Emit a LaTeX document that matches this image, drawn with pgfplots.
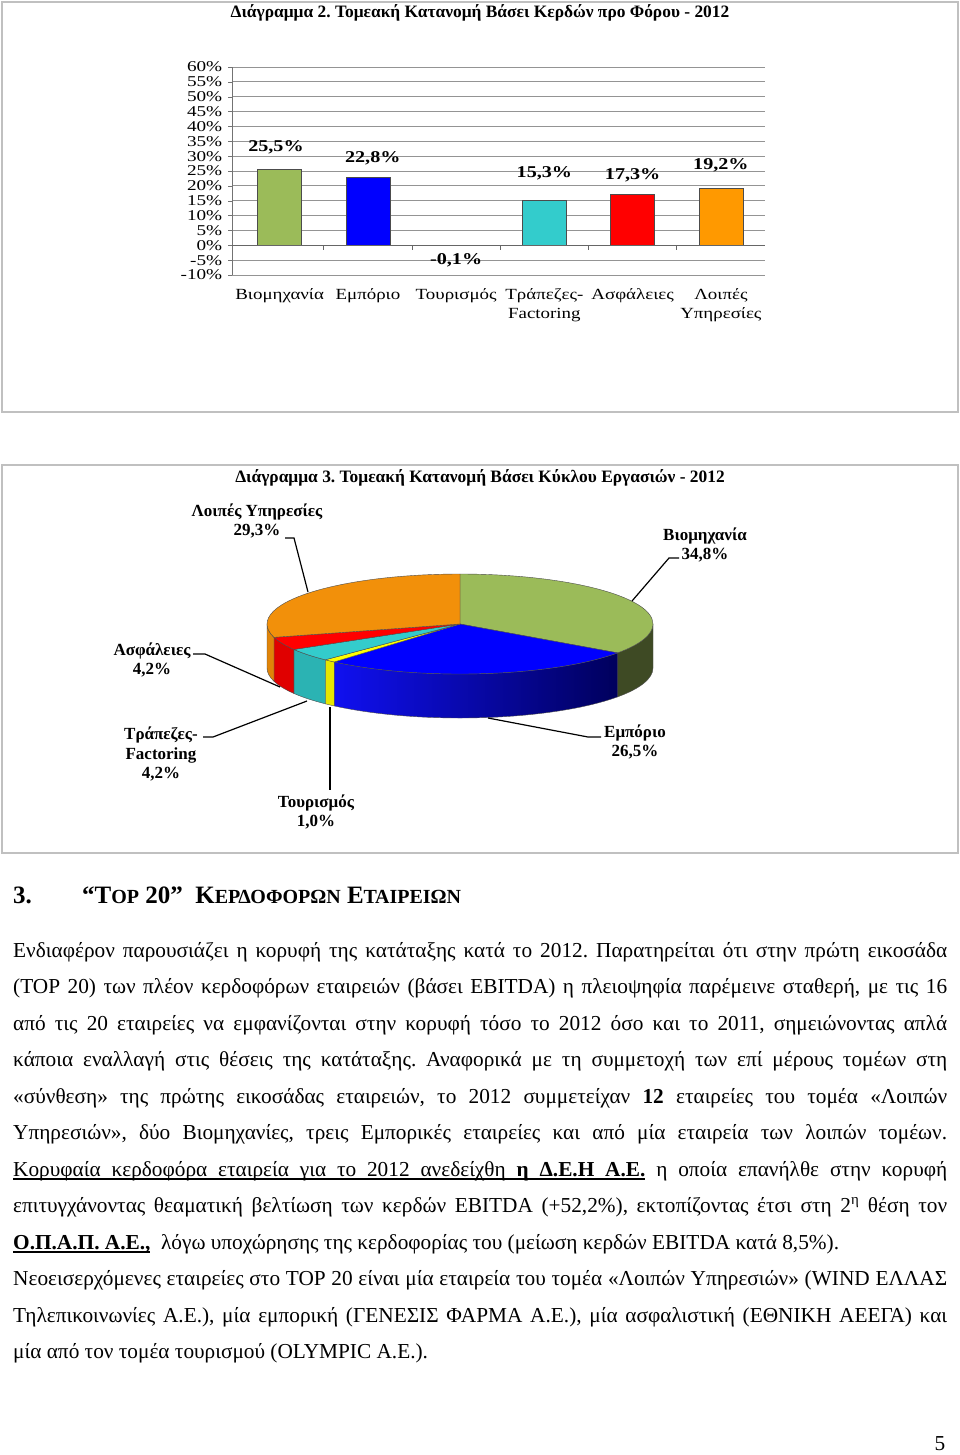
\documentclass[border=0pt]{standalone}
\usepackage{pgfplots}
\pgfplotsset{compat=1.18}
\usepackage{fontspec}
\setmainfont{Liberation Serif}
\frenchspacing
\definecolor{cGreen}{HTML}{9BBB59}
\definecolor{cBlue}{HTML}{0000FF}
\definecolor{cYellow}{HTML}{FFFF00}
\definecolor{cCyan}{HTML}{33CCCC}
\definecolor{cRed}{HTML}{FF0000}
\definecolor{cOrange}{HTML}{FF9900}
\definecolor{pOrange}{HTML}{F2900A}
\definecolor{sGreen}{HTML}{3E4A24}
\definecolor{sBlueL}{HTML}{1010F0}
\definecolor{sBlueR}{HTML}{00005C}
\definecolor{sYellow}{HTML}{E6E600}
\definecolor{sCyan}{HTML}{2BB3B3}
\definecolor{sRed}{HTML}{E00000}
\definecolor{sOrange}{HTML}{E08408}
\definecolor{frameC}{HTML}{C0C0C0}
\newcommand\bodyfont{\fontsize{21.3}{25}\selectfont}
\newcommand\lbl{\bfseries\fontsize{17}{19.5}\selectfont}
\newcommand\uw[1]{\setbox0\hbox{#1}\rlap{\vrule height -2.2pt depth 3.5pt width \wd0}\box0\relax}
\newcommand\us{\leaders\vrule height -2.2pt depth 3.5pt\hskip\fontdimen2\font plus\fontdimen3\font minus\fontdimen4\font}
\begin{document}
\begin{tikzpicture}[x=1pt,y=-1pt]
\useasboundingbox (0,0) rectangle (960,1455);
\fill[white] (0,0) rectangle (960,1455);
% frames
\draw[line width=1.3pt, frameC] (2,2) rectangle (958,412);
\draw[line width=1.3pt, frameC] (2,465) rectangle (958,853);
% titles
\node[font=\bfseries\fontsize{17.4}{20}\selectfont] at (480,13) {Διάγραμμα 2. Τομεακή Κατανομή Βάσει Κερδών προ Φόρου - 2012};
\node[font=\bfseries\fontsize{17.4}{20}\selectfont] at (480,478) {Διάγραμμα 3. Τομεακή Κατανομή Βάσει Κύκλου Εργασιών - 2012};

% ---------------- bar chart ----------------
\begin{axis}[at={(232pt,-275pt)}, anchor=south west, scale only axis,
  width=533pt, height=208pt,
  xmin=-0.54, xmax=5.5, ymin=-10, ymax=60,
  ybar, bar width=44pt,
  ytick={-10,-5,0,5,10,15,20,25,30,35,40,45,50,55,60},
  yticklabels={-10\%,-5\%,0\%,5\%,10\%,15\%,20\%,25\%,30\%,35\%,40\%,45\%,50\%,55\%,60\%},
  xtick={0,1,2,3,4,5},
  xticklabels={Βιομηχανία,Εμπόριο,Τουρισμός,{Τράπεζες-\\Factoring},Ασφάλειες,{Λοιπές\\Υπηρεσίες}},
  xticklabel style={font=\fontsize{15.5}{19}\selectfont, align=center, xscale=1.22, yshift=-6pt},
  yticklabel style={font=\fontsize{15}{17}\selectfont, xscale=1.28, xshift=-1pt},
  x tick style={draw=none},
  y tick style={black!55},
  tick align=outside, major tick length=4pt,
  axis y line*=left, axis x line*=bottom,
  x axis line style={draw=none},
  y axis line style={black!55, line width=0.8pt},
  ymajorgrids, grid style={black!42, line width=0.8pt},
  nodes near coords style={font=\bfseries\fontsize{16.5}{20}\selectfont, xscale=1.22},
  clip=false]
\addplot[bar shift=0pt, fill=cGreen, draw=black!70, nodes near coords={25,5\%}, nodes near coords style={yshift=12pt, xshift=-3pt}] coordinates {(0,25.5)};
\addplot[bar shift=0pt, fill=cBlue, draw=black!70, nodes near coords={22,8\%}, nodes near coords style={yshift=9pt, xshift=4pt}] coordinates {(1,22.8)};
\addplot[bar shift=0pt, fill=cYellow, draw=black!80, nodes near coords={-0,1\%}, nodes near coords style={yshift=-4pt}] coordinates {(2,-0.1)};
\addplot[bar shift=0pt, fill=cCyan, draw=black!70, nodes near coords={15,3\%}, nodes near coords style={yshift=16pt}] coordinates {(3,15.3)};
\addplot[bar shift=0pt, fill=cRed, draw=black!70, nodes near coords={17,3\%}, nodes near coords style={yshift=8pt}] coordinates {(4,17.3)};
\addplot[bar shift=0pt, fill=cOrange, draw=black!70, nodes near coords={19,2\%}, nodes near coords style={yshift=13pt}] coordinates {(5,19.2)};
\draw[black!60, line width=0.9pt] (axis cs:-0.54,0) -- (axis cs:5.5,0);
\pgfplotsinvokeforeach{0.5,1.5,2.5,3.5,4.5}{\draw[black!60, line width=0.8pt] (axis cs:#1,0) -- ++(0pt,-5pt);}
\end{axis}

% ---------------- pie chart ----------------
\def\vA{34.8}\def\vB{26.5}\def\vC{1.0}\def\vD{4.2}\def\vE{4.2}\def\vF{29.3}
\pgfmathsetmacro\aA{90}
\pgfmathsetmacro\aB{\aA-3.6*\vA}
\pgfmathsetmacro\aC{\aB-3.6*\vB}
\pgfmathsetmacro\aD{\aC-3.6*\vC}
\pgfmathsetmacro\aE{\aD-3.6*\vD}
\pgfmathsetmacro\aF{\aE-3.6*\vE}
\pgfmathsetmacro\aG{\aF-3.6*\vF}
\tikzset{el/.style={x radius=193pt, y radius=50pt}}
\begin{axis}[at={(460pt,-624pt)}, anchor=center, scale only axis, width=500pt, height=300pt,
  xmin=-250, xmax=250, ymin=-150, ymax=150, hide axis, clip=false]
\addplot[draw=none] coordinates {(0,0)};
% walls
\fill[sGreen, draw=black!70, line width=0.4pt] (axis cs:0,0) ++(0:193pt and 50pt) arc[el, start angle=0, end angle=\aB] -- ++(0pt,-44pt) arc[el, start angle=\aB, end angle=0] -- cycle;
\shade[left color=sBlueL, right color=sBlueR, draw=black!70, line width=0.4pt] (axis cs:0,0) ++(\aB:193pt and 50pt) arc[el, start angle=\aB, end angle=\aC] -- ++(0pt,-44pt) arc[el, start angle=\aC, end angle=\aB] -- cycle;
\fill[sYellow, draw=black!70, line width=0.4pt] (axis cs:0,0) ++(\aC:193pt and 50pt) arc[el, start angle=\aC, end angle=\aD] -- ++(0pt,-44pt) arc[el, start angle=\aD, end angle=\aC] -- cycle;
\fill[sCyan, draw=black!70, line width=0.4pt] (axis cs:0,0) ++(\aD:193pt and 50pt) arc[el, start angle=\aD, end angle=\aE] -- ++(0pt,-44pt) arc[el, start angle=\aE, end angle=\aD] -- cycle;
\fill[sRed, draw=black!70, line width=0.4pt] (axis cs:0,0) ++(\aE:193pt and 50pt) arc[el, start angle=\aE, end angle=\aF] -- ++(0pt,-44pt) arc[el, start angle=\aF, end angle=\aE] -- cycle;
\fill[sOrange, draw=black!70, line width=0.4pt] (axis cs:0,0) ++(\aF:193pt and 50pt) arc[el, start angle=\aF, end angle=-180] -- ++(0pt,-44pt) arc[el, start angle=-180, end angle=\aF] -- cycle;
% tops
\fill[cGreen, draw=black!70, line width=0.4pt] (axis cs:0,0) -- ++(\aA:193pt and 50pt) arc[el, start angle=\aA, end angle=\aB] -- cycle;
\fill[cBlue, draw=black!70, line width=0.4pt] (axis cs:0,0) -- ++(\aB:193pt and 50pt) arc[el, start angle=\aB, end angle=\aC] -- cycle;
\fill[cYellow, draw=black!70, line width=0.4pt] (axis cs:0,0) -- ++(\aC:193pt and 50pt) arc[el, start angle=\aC, end angle=\aD] -- cycle;
\fill[cCyan, draw=black!70, line width=0.4pt] (axis cs:0,0) -- ++(\aD:193pt and 50pt) arc[el, start angle=\aD, end angle=\aE] -- cycle;
\fill[cRed, draw=black!70, line width=0.4pt] (axis cs:0,0) -- ++(\aE:193pt and 50pt) arc[el, start angle=\aE, end angle=\aF] -- cycle;
\fill[pOrange, draw=black!70, line width=0.4pt] (axis cs:0,0) -- ++(\aF:193pt and 50pt) arc[el, start angle=\aF, end angle=\aG] -- cycle;
\end{axis}
% leader lines
\draw[line width=1.2pt] (285,538) -- (294,538) -- (308,592);
\draw[line width=1.2pt] (679,558) -- (669,558) -- (632,601);
\draw[line width=1.2pt] (193,654) -- (205,654) -- (280,687);
\draw[line width=1.2pt] (203,737) -- (213,737) -- (307,701);
\draw[line width=1.2pt] (330,707) -- (330,790);
\draw[line width=1.2pt] (488,718) -- (588,737) -- (601,737);
% pie labels
\node[font=\lbl, align=center] at (257,521) {Λοιπές Υπηρεσίες\\29,3\%};
\node[font=\lbl, align=center] at (705,545) {Βιομηχανία\\34,8\%};
\node[font=\lbl, align=center] at (152,660) {Ασφάλειες\\4,2\%};
\node[font=\lbl, align=center] at (161,754) {Τράπεζες-\\Factoring\\4,2\%};
\node[font=\lbl, align=center] at (316,812) {Τουρισμός\\1,0\%};
\node[font=\lbl, align=center] at (635,742) {Εμπόριο\\26,5\%};

% ---------------- text ----------------
\node[anchor=base west, inner sep=0pt, font=\bfseries\fontsize{25}{28}\selectfont] at (13,903) {3.};
\node[anchor=base west, inner sep=0pt, font=\bfseries\fontsize{25}{28}\selectfont] at (82,903)
  {“T{\fontsize{20}{22}\selectfont OP} 20”\ \ K{\fontsize{20}{22}\selectfont ΕΡΔΟΦΟΡΩΝ} Ε{\fontsize{20}{22}\selectfont ΤΑΙΡΕΙΩΝ}};
\begin{scope}[every node/.style={anchor=base west, inner sep=0pt, font=\bodyfont}]
\node at (13,957) {\makebox[934pt][s]{Ενδιαφέρον παρουσιάζει η κορυφή της κατάταξης κατά το 2012. Παρατηρείται ότι στην πρώτη εικοσάδα}};
\node at (13,993.5) {\makebox[934pt][s]{(TOP 20) των πλέον κερδοφόρων εταιρειών (βάσει EBITDA) η πλειοψηφία παρέμεινε σταθερή, με τις 16}};
\node at (13,1030) {\makebox[934pt][s]{από τις 20 εταιρείες να εμφανίζονται στην κορυφή τόσο το 2012 όσο και το 2011, σημειώνοντας απλά}};
\node at (13,1066.5) {\makebox[934pt][s]{κάποια εναλλαγή στις θέσεις της κατάταξης. Αναφορικά με τη συμμετοχή των επί μέρους τομέων στη}};
\node at (13,1103) {\makebox[934pt][s]{«σύνθεση» της πρώτης εικοσάδας εταιρειών, το 2012 συμμετείχαν \textbf{12} εταιρείες του τομέα «Λοιπών}};
\node at (13,1139.5) {\makebox[934pt][s]{Υπηρεσιών», δύο Βιομηχανίες, τρεις Εμπορικές εταιρείες και από μία εταιρεία των λοιπών τομέων.}};
\node at (13,1176) {\makebox[934pt][s]{\uw{Κορυφαία}\us\uw{κερδοφόρα}\us\uw{εταιρεία}\us\uw{για}\us\uw{το}\us\uw{2012}\us\uw{ανεδείχθη}\us\uw{\textbf{η}}\us\uw{\textbf{Δ.Ε.Η}}\us\uw{\textbf{Α.Ε.}} η οποία επανήλθε στην κορυφή}};
\node at (13,1212.5) {\makebox[934pt][s]{επιτυγχάνοντας θεαματική βελτίωση των κερδών EBITDA (+52,2\%), εκτοπίζοντας έτσι στη 2\textsuperscript{η} θέση τον}};
\node at (13,1249) {\uw{\textbf{Ο.Π.Α.Π.}}\us\uw{\textbf{Α.Ε.,}}\ \ λόγω υποχώρησης της κερδοφορίας του (μείωση κερδών EBITDA κατά 8,5\%).};
\node at (13,1285.5) {\makebox[934pt][s]{Νεοεισερχόμενες εταιρείες στο TOP 20 είναι μία εταιρεία του τομέα «Λοιπών Υπηρεσιών» (WIND ΕΛΛΑΣ}};
\node at (13,1322) {\makebox[934pt][s]{Τηλεπικοινωνίες Α.Ε.), μία εμπορική (ΓΕΝΕΣΙΣ ΦΑΡΜΑ Α.Ε.), μία ασφαλιστική (ΕΘΝΙΚΗ ΑΕΕΓΑ) και}};
\node at (13,1358.5) {μία από τον τομέα τουρισμού (OLYMPIC A.E.).};
\node[anchor=base] at (940,1450) {5};
\end{scope}
\end{tikzpicture}
\end{document}
